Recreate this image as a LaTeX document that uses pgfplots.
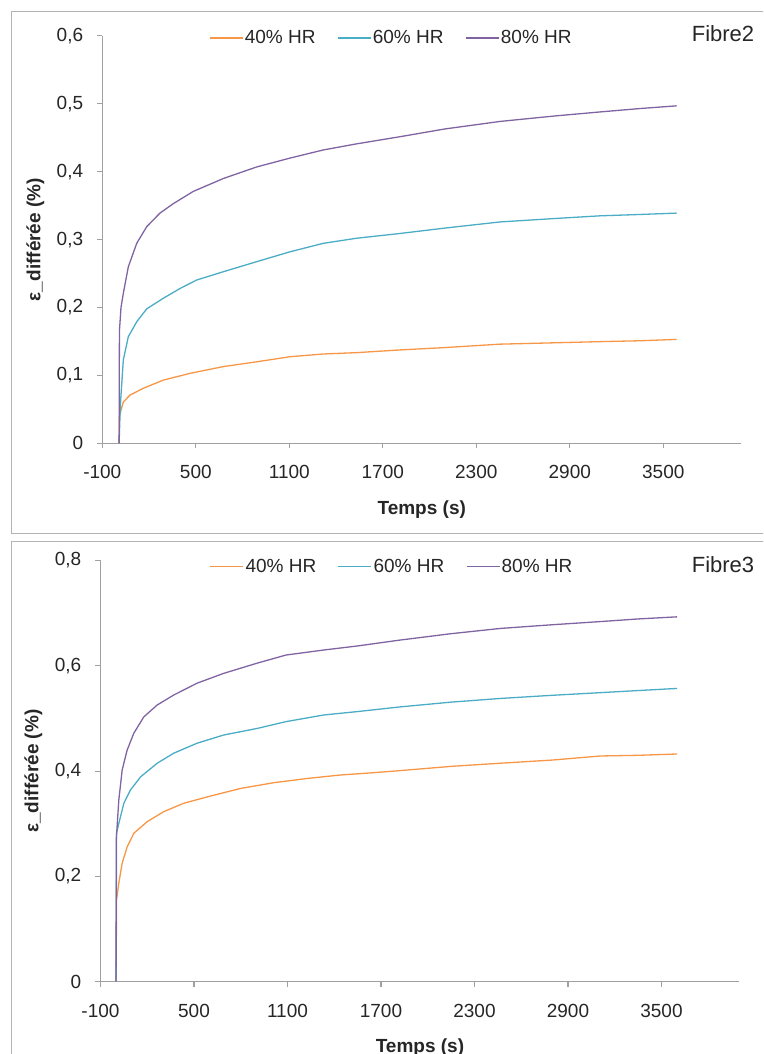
\documentclass[border=0pt]{standalone}
\usepackage{pgfplots}
\pgfplotsset{compat=1.18}
\usepackage{pgfplotstable}
\usepackage{fontspec}
\setmainfont{Liberation Sans}
\definecolor{cOr}{HTML}{F79646}
\definecolor{cCy}{HTML}{4BACC6}
\definecolor{cPu}{HTML}{8064A2}
\definecolor{axgray}{HTML}{A0A0A0}
\definecolor{frgray}{HTML}{B4B4B4}
\definecolor{txt}{HTML}{262626}

\pgfplotstableread{
t y
8 0
8.5 0.039
35 0.061
78 0.071
163 0.081
291 0.093
463 0.103
677 0.113
891 0.120
1104 0.1275
1318 0.1315
1532 0.1335
1810 0.1375
2100 0.141
2452 0.146
2800 0.148
3094 0.1497
3350 0.151
3586 0.153
}\topOr
\pgfplotstableread{
t y
8 0
12 0.03
18 0.064
35 0.123
67 0.157
121 0.179
185 0.198
291 0.2135
399 0.228
506 0.2405
677 0.2527
891 0.2675
1104 0.282
1318 0.2945
1532 0.302
1810 0.309
2100 0.317
2452 0.326
2800 0.331
3094 0.335
3350 0.337
3586 0.339
}\topCy
\pgfplotstableread{
t y
8 0
9 0.10
10 0.166
20 0.20
35 0.221
67 0.260
121 0.2945
185 0.319
270 0.339
356 0.353
484 0.371
677 0.390
891 0.407
1104 0.420
1318 0.432
1532 0.441
1810 0.4515
2100 0.463
2452 0.474
2800 0.482
3094 0.488
3350 0.493
3586 0.497
}\topPu
\pgfplotstableread{
t y
0 0
3 0.155
17.5 0.187
39 0.225
71 0.256
114 0.282
200 0.304
306 0.323
435 0.339
585 0.351
798 0.367
1012 0.378
1226 0.386
1440 0.3926
1654 0.397
1825 0.401
2150 0.409
2467 0.415
2800 0.421
3108 0.4287
3350 0.430
3600 0.4325
}\botOr
\pgfplotstableread{
t y
0 0
3 0.283
28 0.313
50 0.339
92 0.364
157 0.389
264 0.415
370 0.434
520 0.453
691 0.4686
905 0.481
1091 0.494
1333 0.5066
1547 0.513
1825 0.522
2150 0.531
2467 0.538
2800 0.544
3108 0.549
3350 0.553
3600 0.557
}\botCy
\pgfplotstableread{
t y
0 0
1 0.269
17.5 0.345
39 0.402
71 0.440
114 0.472
178 0.503
264 0.5256
370 0.5445
520 0.567
691 0.5857
905 0.605
1091 0.6205
1333 0.630
1547 0.6376
1825 0.649
2150 0.661
2467 0.671
2800 0.678
3108 0.684
3350 0.689
3600 0.693
}\botPu

\pgfplotsset{
  exc/.style={
    scale only axis,
    width=638.9pt,
    xmin=-100, xmax=4000,
    axis x line*=bottom, axis y line*=left,
    axis line style={axgray, line width=1.2pt},
    tick style={axgray, line width=1.2pt},
    tick align=outside,
    major tick length=5pt,
    xtick={-100,500,1100,1700,2300,2900,3500},
    xticklabels={-100,500,1100,1700,2300,2900,3500},
    ticklabel style={font=\fontsize{19}{22}\selectfont, text=txt},
    xticklabel style={anchor=center, yshift=-24pt},
    yticklabel style={anchor=east, inner sep=0pt, xshift=-14pt},
    xlabel={Temps (s)},
    ylabel={ε\_différée (\%)},
    xlabel style={at={(rel axis cs:0.5,0)}, yshift=-66pt, anchor=center,
      font=\fontsize{19}{22}\selectfont\bfseries, text=txt},
    ylabel style={at={(rel axis cs:0,0.5)}, yshift=67pt, anchor=center,
      font=\fontsize{19}{22}\selectfont\bfseries, text=txt},
    legend columns=3,
    legend image code/.code={\draw[#1] (0pt,0pt) -- (33pt,0pt);},
    legend style={draw=none, fill=none, inner sep=0pt,
      font=\fontsize{19}{22}\selectfont, text=txt,
      nodes={inner sep=1.5pt},
      /tikz/every even column/.append style={column sep=20pt}},
    clip=false,
  },
}

\begin{document}
\begin{tikzpicture}[x=1pt,y=1pt]
\useasboundingbox (0,0) rectangle (763,1054);
\clip (0,0) rectangle (763,1054);
\draw[frgray, line width=1pt] (11,1042) rectangle (780,520);
\draw[frgray, line width=1pt] (11,512) rectangle (780,-20);

\begin{axis}[exc,
  at={(102.3pt,610.7pt)}, anchor=south west,
  height=407.4pt,
  ymin=0, ymax=0.6,
  ytick={0,0.1,0.2,0.3,0.4,0.5,0.6},
  yticklabels={0,{0,1},{0,2},{0,3},{0,4},{0,5},{0,6}},
  legend style={at={(0.452,0.995)}, anchor=center},
]
\addplot[cOr, line width=1.3pt] table[x=t,y=y] {\topOr};
\addplot[cCy, line width=1.3pt] table[x=t,y=y] {\topCy};
\addplot[cPu, line width=1.3pt] table[x=t,y=y] {\topPu};
\legend{40\% HR,60\% HR,80\% HR}
\end{axis}
\node[text=txt, font=\fontsize{22}{26}\selectfont, anchor=center] at (723,1020) {Fibre2};

\begin{axis}[exc,
  at={(100.5pt,72.3pt)}, anchor=south west,
  height=421.2pt,
  ymin=0, ymax=0.8,
  ytick={0,0.2,0.4,0.6,0.8},
  yticklabels={0,{0,2},{0,4},{0,6},{0,8}},
  legend style={at={(0.456,0.986)}, anchor=center},
]
\addplot[cOr, line width=1.3pt] table[x=t,y=y] {\botOr};
\addplot[cCy, line width=1.3pt] table[x=t,y=y] {\botCy};
\addplot[cPu, line width=1.3pt] table[x=t,y=y] {\botPu};
\legend{40\% HR,60\% HR,80\% HR}
\end{axis}
\node[text=txt, font=\fontsize{22}{26}\selectfont, anchor=center] at (723,489) {Fibre3};
\end{tikzpicture}
\end{document}
